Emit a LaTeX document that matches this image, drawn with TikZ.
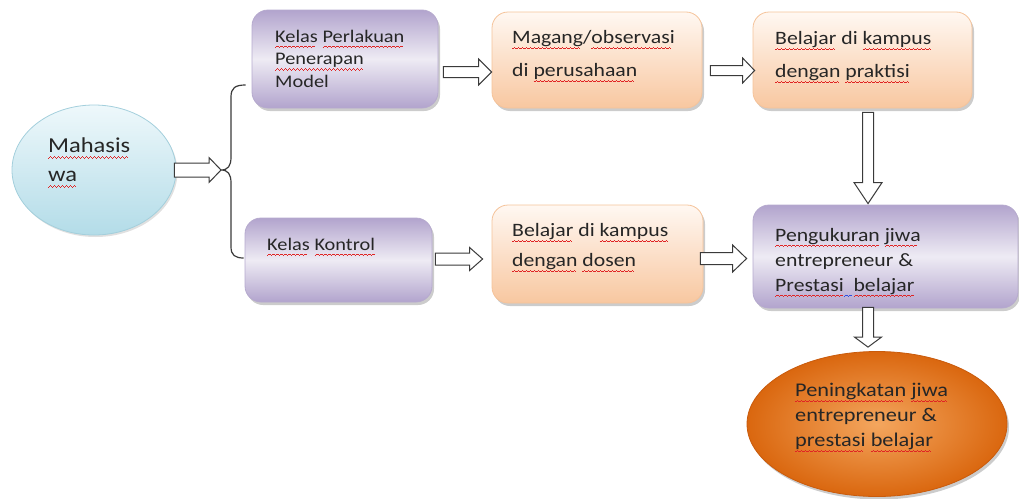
\documentclass[tikz,border=0pt]{standalone}
\usepackage{fontspec}
\setmainfont{Carlito}[FakeStretch=1.15]
\usetikzlibrary{calc,shadows,shapes.geometric}

\definecolor{ink}{HTML}{262626}
\definecolor{squig}{HTML}{E02424}
\definecolor{grammar}{HTML}{2F4FE0}
\definecolor{arrowedge}{HTML}{3A3A3A}
\definecolor{skytop}{HTML}{EEF8FB}
\definecolor{skybot}{HTML}{B3DCE8}
\definecolor{skyedge}{HTML}{A3CFDC}
\definecolor{lilacdark}{HTML}{B2A4CD}
\definecolor{lilaclight}{HTML}{EEEBF4}
\definecolor{lilacedge}{HTML}{B6AACE}
\definecolor{peachtop}{HTML}{FFF8F2}
\definecolor{peachbot}{HTML}{F8C7A0}
\definecolor{peachedge}{HTML}{F5C39A}
\definecolor{orangein}{HTML}{F4A65E}
\definecolor{orangeout}{HTML}{DA670F}
\definecolor{orangeedge}{HTML}{C95B0C}

% wavy spell-check underline drawn with tiny rules
\newsavebox\sqbox
\newcommand\wavecell[1]{\textcolor{#1}{\rule[-5.4pt]{1pt}{0.8pt}\rule[-4.8pt]{1pt}{0.8pt}\rule[-4.2pt]{1pt}{0.8pt}\rule[-4.8pt]{1pt}{0.8pt}}}
\newcommand\sqc[2]{\sbox\sqbox{#2}\rlap{\hbox to \wd\sqbox{\leaders\hbox{\wavecell{#1}}\hfill}}\usebox\sqbox}
\newcommand\sq[1]{\sqc{squig}{#1}}
\newcommand\sqb[1]{\sqc{grammar}{#1}}

\begin{document}
\begin{tikzpicture}[x=1pt,y=-1pt,
  softshadow/.style={drop shadow={shadow xshift=2pt,shadow yshift=-3pt,opacity=0.2,fill=black}},
  lilacbox/.style={draw=lilacedge,line width=0.8pt,rounded corners=16pt,softshadow,
    shading angle=-60,top color=lilacdark,bottom color=lilacdark,middle color=lilaclight},
  peachbox/.style={draw=peachedge,line width=0.8pt,rounded corners=16pt,softshadow,
    top color=peachtop,bottom color=peachbot},
  txt/.style={anchor=north west,inner sep=0pt,align=left,text=ink},
  barrow/.style={draw=arrowedge,fill=white,line width=1pt,line join=miter},
  brace/.style={draw=arrowedge,line width=1.2pt},
  hblock/.style n args={3}{to path={let \p1=(\tikztostart), \p2=(\tikztotarget) in
    (\x1,\y1+#1) -- (\x2-#3,\y1+#1) -- (\x2-#3,\y1+#2) -- (\x2,\y1)
    -- (\x2-#3,\y1-#2) -- (\x2-#3,\y1-#1) -- (\x1,\y1-#1) -- cycle}},
  vblock/.style n args={3}{to path={let \p1=(\tikztostart), \p2=(\tikztotarget) in
    (\x1-#1,\y1) -- (\x1-#1,\y2+#3) -- (\x1-#2,\y2+#3) -- (\x1,\y2)
    -- (\x1+#2,\y2+#3) -- (\x1+#1,\y2+#3) -- (\x1+#1,\y1) -- cycle}},
]
\useasboundingbox (0,0) rectangle (1019,498);

% shapes
\node[ellipse,draw=skyedge,line width=0.8pt,top color=skytop,bottom color=skybot,
      drop shadow={shadow xshift=1.5pt,shadow yshift=-2pt,opacity=0.12,fill=black},
      minimum width=164pt,minimum height=130pt,inner sep=0pt] (ms) at (94,170) {};
\node[lilacbox,minimum width=186pt,minimum height=98pt] (kp) at (345,59) {};
\node[peachbox,minimum width=210pt,minimum height=96pt] (mg) at (597,60) {};
\node[peachbox,minimum width=219pt,minimum height=96pt] (bp) at (862.5,60) {};
\node[lilacbox,minimum width=187pt,minimum height=84pt] (kk) at (338.5,260) {};
\node[peachbox,minimum width=211pt,minimum height=98pt] (bd) at (597.5,254) {};
\node[lilacbox,minimum width=265pt,minimum height=103pt] (pk) at (885.5,256.5) {};
\node[ellipse,draw=orangeedge,line width=0.8pt,softshadow,inner color=orangein,outer color=orangeout,
      minimum width=260pt,minimum height=145pt,inner sep=0pt] (pn) at (877,424) {};

% texts
\node[txt,font=\fontsize{21.3}{29}\selectfont] (ms-t) at (48,138) {\sq{Mahasis}\\\sq{wa}};
\node[txt,font=\fontsize{17.7}{22.5}\selectfont] (kp-t) at (275,30) {\sq{Kelas} \sq{Perlakuan}\\\sq{Penerapan}\\Model};
\node[txt,font=\fontsize{18.9}{33}\selectfont] (mg-t) at (512,30.5) {\sq{Magang}/\sq{observasi}\\di \sq{perusahaan}};
\node[txt,font=\fontsize{18.9}{33}\selectfont] (bp-t) at (775,31.5) {\sq{Belajar} di \sq{kampus}\\\sq{dengan} \sq{praktisi}};
\node[txt,font=\fontsize{17.7}{22.5}\selectfont] (kk-t) at (267,238) {\sq{Kelas} \sq{Kontrol}};
\node[txt,font=\fontsize{18.9}{30}\selectfont] (bd-t) at (512,223.5) {\sq{Belajar} di \sq{kampus}\\\sq{dengan} \sq{dosen}};
\node[txt,font=\fontsize{18.9}{25}\selectfont] (pk-t) at (775,228) {\sq{Pengukuran} \sq{jiwa}\\entrepreneur \&\\\sq{Prestasi}\sqb{\ \ }\sq{belajar}};
\node[txt,font=\fontsize{19.4}{25}\selectfont] (pn-t) at (795,383) {\sq{Peningkatan} \sq{jiwa}\\entrepreneur \&\\\sq{prestasi} \sq{belajar}};

% brace splitting the students into two classes
\coordinate (br) at (221,170);
\coordinate (bt) at ($(kp.west)+(-6,26)$);
\coordinate (bb) at ($(kk.west)+(-1,-2)$);
\draw[brace] (bt) .. controls (235,85) and (231,88) .. (231,97) -- (231,157)
  .. controls (231,166) and (228,170) .. (br)
  .. controls (228,170) and (231,174) .. (231,183) -- (231,247)
  .. controls (231,255) and (235,258) .. (bb);

% block arrows
\draw[barrow] ($(ms.east)+(-2,0)$) to[hblock={7pt}{12.5pt}{12pt}] (br);
\draw[barrow] ($(kp.east)+(5,13)$) to[hblock={5.5pt}{13pt}{13pt}] ($(mg.west)+(0,13)$);
\draw[barrow] ($(mg.east)+(8,10.5)$) to[hblock={5pt}{12.5pt}{12pt}] ($(bp.west)+(2,10.5)$);
\draw[barrow] ($(bp.south)+(5.5,4)$) to[vblock={5.5pt}{14pt}{21pt}] ($(pk.north)+(-17.5,-1)$);
\draw[barrow] ($(kk.east)+(3,-1)$) to[hblock={6pt}{11.5pt}{13pt}] ($(bd.west)+(-9,0)$);
\draw[barrow] ($(bd.east)+(-3,4.5)$) to[hblock={6pt}{13.5pt}{14pt}] ($(pk.west)+(-6,0)$);
\draw[barrow] ($(pk.south)+(-17.5,-1)$) to[vblock={5.5pt}{13.5pt}{10pt}] ($(pn.north)+(0,-4)$);
\end{tikzpicture}
\end{document}
